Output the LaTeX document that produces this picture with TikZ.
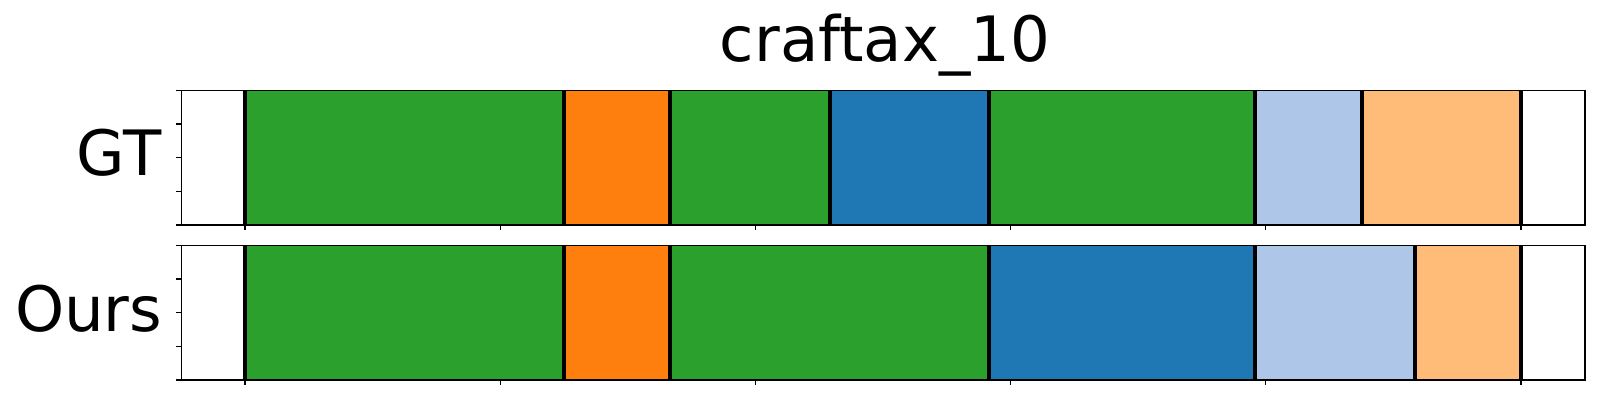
\documentclass[tikz,border=0pt]{standalone}
\usepackage{fontspec}
\setmainfont{DejaVu Sans}
\usepackage{tikz}
\definecolor{tabgreen}{HTML}{2CA02C}
\definecolor{taborange}{HTML}{FF7F0E}
\definecolor{tabblue}{HTML}{1F77B4}
\definecolor{tablightblue}{HTML}{AEC7E8}
\definecolor{tablightorange}{HTML}{FFBB78}
\tikzset{
    seg/.style={line width=0.04cm, black},
    frame/.style={line width=0.35pt, black},
    tick/.style={line width=0.35pt, black},
    lbl/.style={inner sep=0pt, font=\fontsize{17.8}{22}\selectfont}
}
\begin{document}
\begin{tikzpicture}
    \useasboundingbox (0,0) rectangle (16,4);
    \node[lbl, anchor=base] (title) at (8.85,3.383) {craftax\_10};
    \node[lbl, anchor=base east] (gt) at (1.62,2.25) {GT};
    \node[lbl, anchor=base east] (ours) at (1.63,0.683) {Ours};
    \begin{scope}[xshift=2.45cm, x=0.5317cm]
        % GT
        \fill[tabgreen] (0,1.75) rectangle (6,3.097);
        \fill[taborange] (6,1.75) rectangle (8,3.097);
        \fill[tabgreen] (8,1.75) rectangle (11,3.097);
        \fill[tabblue] (11,1.75) rectangle (14,3.097);
        \fill[tabgreen] (14,1.75) rectangle (19,3.097);
        \fill[tablightblue] (19,1.75) rectangle (21,3.097);
        \fill[tablightorange] (21,1.75) rectangle (24,3.097);
        \foreach \b in {0,6,8,11,14,19,21,24}
            \draw[seg] (\b,1.75) -- (\b,3.097);
        % Ours
        \fill[tabgreen] (0,0.2) rectangle (6,1.547);
        \fill[taborange] (6,0.2) rectangle (8,1.547);
        \fill[tabgreen] (8,0.2) rectangle (14,1.547);
        \fill[tabblue] (14,0.2) rectangle (19,1.547);
        \fill[tablightblue] (19,0.2) rectangle (22,1.547);
        \fill[tablightorange] (22,0.2) rectangle (24,1.547);
        \foreach \b in {0,6,8,14,19,22,24}
            \draw[seg] (\b,0.2) -- (\b,1.547);
        % axes
        \draw[frame] (-1.2,1.75) rectangle (25.2,3.097);
        \draw[frame] (-1.2,0.2) rectangle (25.2,1.547);
        \foreach \t in {0,0.25,0.5,0.75,1} {
            \draw[tick] (-1.2,1.75+1.347*\t) -- ++(-0.05cm,0);
            \draw[tick] (-1.2,0.2+1.347*\t) -- ++(-0.05cm,0);
        }
        \foreach \t in {0,4.8,9.6,14.4,19.2,24} {
            \draw[tick] (\t,1.75) -- ++(0,-0.05);
            \draw[tick] (\t,0.2) -- ++(0,-0.05);
        }
    \end{scope}
\end{tikzpicture}
\end{document}
